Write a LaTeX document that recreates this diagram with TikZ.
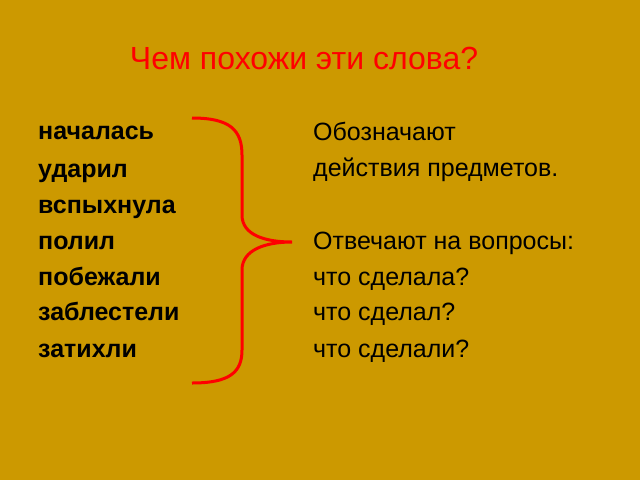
\documentclass[tikz,border=0pt]{standalone}
\usepackage{fontspec}
\setmainfont{Liberation Sans}
\definecolor{slidebg}{RGB}{204,153,0}
\definecolor{bracered}{RGB}{255,0,0}
\tikzset{
  word/.style={anchor=base west,inner sep=0pt,font=\fontsize{25}{30}\selectfont\bfseries},
  note/.style={anchor=base west,inner sep=0pt,font=\fontsize{25}{30}\selectfont},
}
\begin{document}
\begin{tikzpicture}[x=1pt,y=-1pt]
\fill[slidebg] (0,0) rectangle (640,480);
\useasboundingbox (0,0) rectangle (640,480);
% title
\node[anchor=base,inner sep=0pt,text=bracered,font=\fontsize{32}{38}\selectfont] (title) at (304,69) {Чем похожи эти слова?};
% words
\foreach \w/\y [count=\i] in {началась/139,ударил/177,вспыхнула/213,полил/249,побежали/285,заблестели/320,затихли/357}
  \node[word] (w\i) at (38,\y) {\w};
% notes
\node[note] (n1) at (313,140) {Обозначают};
\node[note] (n2) at (313,176) {действия предметов.};
\node[note] (n3) at (313,249) {Отвечают на вопросы:};
\node[note] (n4) at (313,285) {что сделала?};
\node[note] (n5) at (313,320) {что сделал?};
\node[note] (n6) at (313,357) {что сделали?};
% brace
\draw[bracered,line width=3pt]
  (192,118) .. controls (230,118) and (242,130) .. (242,155)
  -- (242,215) .. controls (242,235) and (265,242) .. (292,242)
  .. controls (265,242) and (242,250) .. (242,270)
  -- (242,350) .. controls (242,372) and (230,383) .. (192,383);
\end{tikzpicture}
\end{document}
